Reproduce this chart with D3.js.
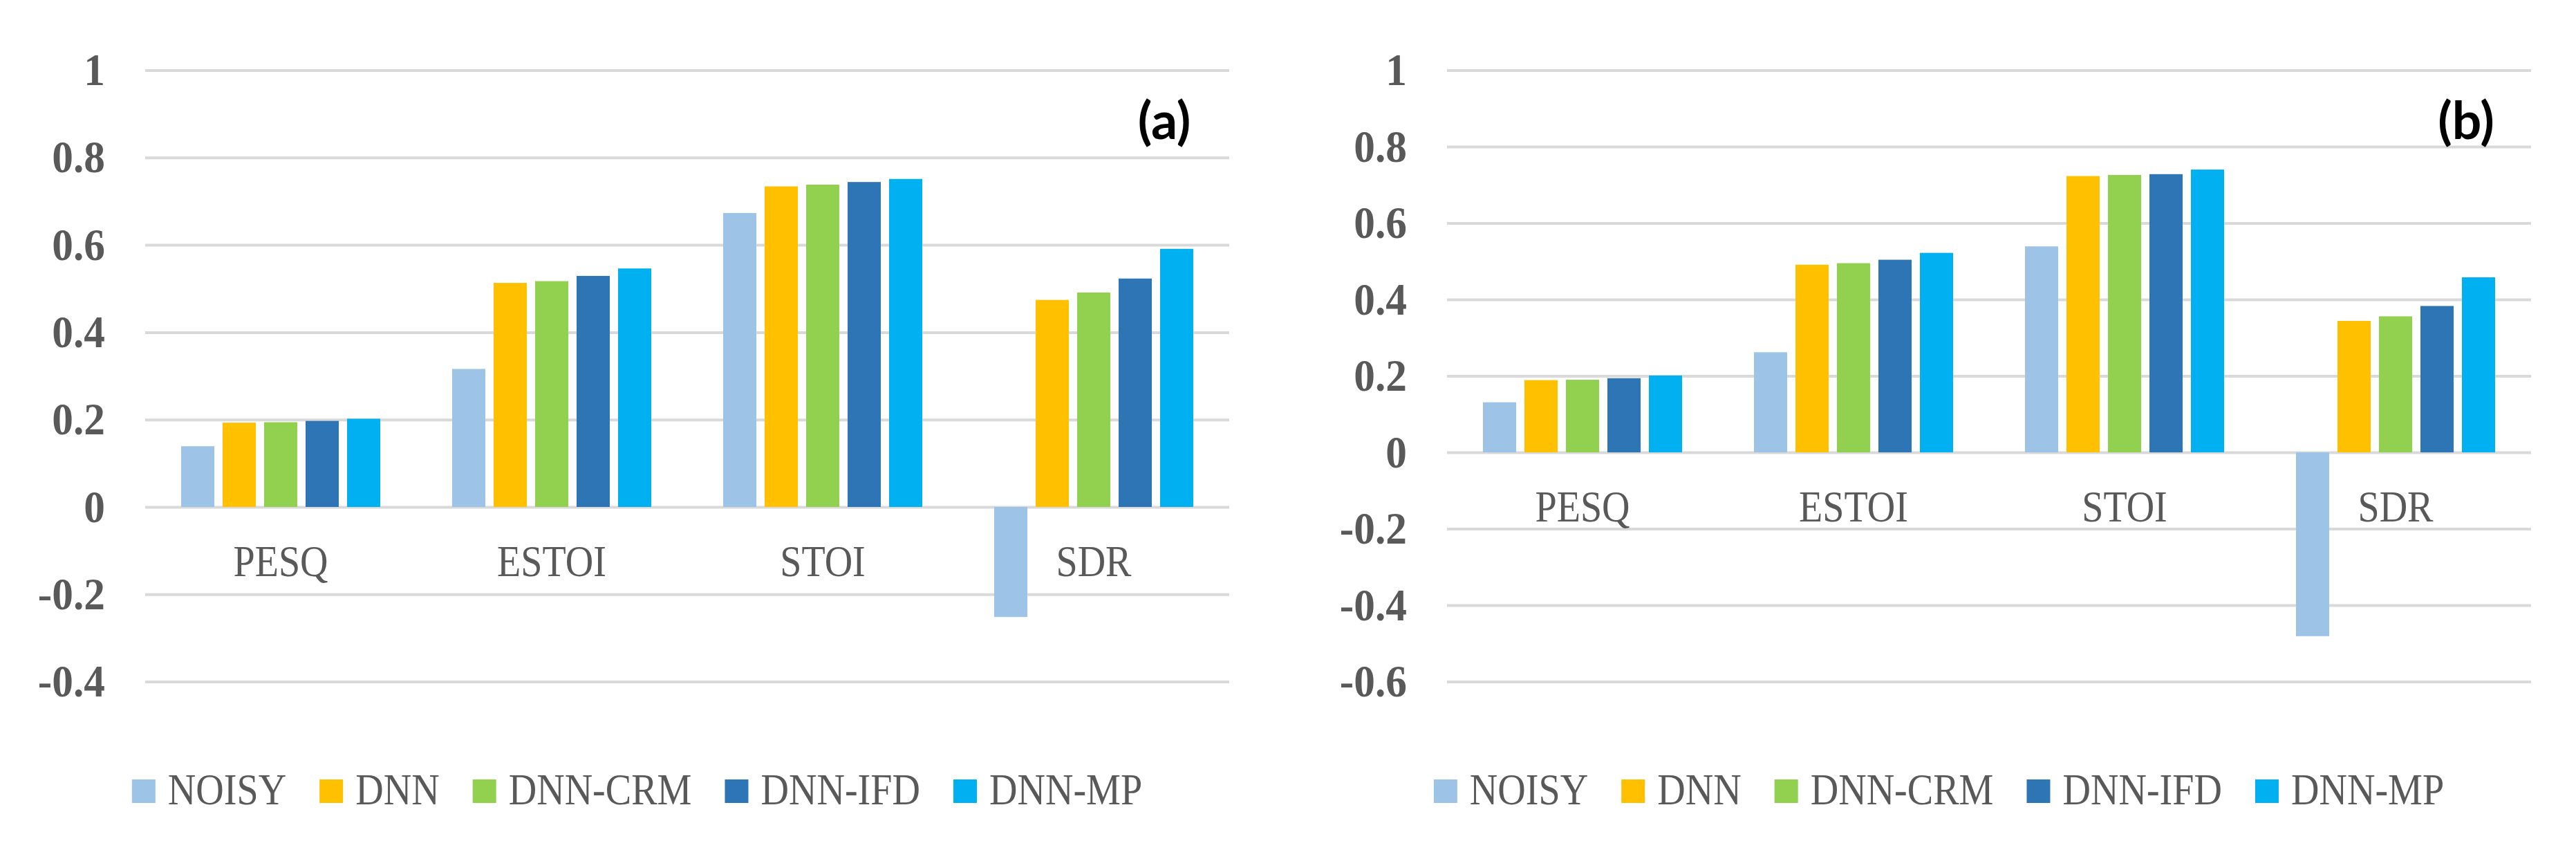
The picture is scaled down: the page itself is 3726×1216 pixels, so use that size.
<!DOCTYPE html>
<html>
<head>
<meta charset="utf-8">
<script src="https://cdn.jsdelivr.net/npm/d3@7"></script>
<style>
  body { margin: 0; background: #fff; }
</style>
</head>
<body>
<div class="canvas"></div>
<script>
// categories and series
const categories = ['PESQ', 'ESTOI', 'STOI', 'SDR'];
const seriesNames = ['NOISY', 'DNN', 'DNN-CRM', 'DNN-IFD', 'DNN-MP'];

// panel (a) values, one array per series, in category order
const noisyA = [0.139, 0.316, 0.673, -0.252];
const dnnA   = [0.193, 0.513, 0.734, 0.474];
const crmA   = [0.194, 0.517, 0.738, 0.491];
const ifdA   = [0.197, 0.529, 0.744, 0.523];
const mpA    = [0.202, 0.546, 0.751, 0.591];

// panel (b) values
const noisyB = [0.131, 0.262, 0.539, -0.481];
const dnnB   = [0.189, 0.491, 0.723, 0.344];
const crmB   = [0.190, 0.495, 0.726, 0.356];
const ifdB   = [0.194, 0.504, 0.728, 0.383];
const mpB    = [0.201, 0.522, 0.740, 0.458];

// y tick values
const ticksA = [-0.4, -0.2, 0, 0.2, 0.4, 0.6, 0.8, 1];
const ticksB = [-0.6, -0.4, -0.2, 0, 0.2, 0.4, 0.6, 0.8, 1];

const colors = ['#9DC3E6', '#FFC000', '#92D050', '#2E75B6', '#00B0F0'];
const textGrey = '#595959';

const svg = d3.select('.canvas')
  .append('svg')
  .attr('width', 3726)
  .attr('height', 1216);

svg.append('rect').attr('width', 3726).attr('height', 1216).attr('fill', '#fff');

// plot area, same size in both panels
const plot = { top: 101.5, bottom: 985.6, width: 1568 };

const drawPanel = (left, ticks, series, label) => {
  const g = svg.append('g').attr('transform', `translate(${left},0)`);

  const x0 = d3.scaleBand()
    .domain(categories)
    .range([0, plot.width])
    .paddingInner(0.2653)
    .paddingOuter(0.1327);

  const x1 = d3.scaleBand()
    .domain(seriesNames)
    .range([0, x0.bandwidth()])
    .paddingInner(0.2);

  const y = d3.scaleLinear()
    .domain([ticks[0], 1])
    .range([plot.bottom, plot.top]);

  // gridlines + tick labels
  const sx = 0.93;
  const axis = g.append('g')
    .call(d3.axisLeft(y)
      .tickValues(ticks)
      .tickSize(-plot.width)
      .tickPadding(58)
      .tickFormat(d => String(Math.round(d * 10) / 10)));
  axis.select('.domain').remove();
  axis.selectAll('.tick line')
    .attr('stroke', '#D9D9D9')
    .attr('stroke-width', 4);
  axis.selectAll('.tick text')
    .attr('x', -58 / sx)
    .attr('transform', `scale(${sx},1)`)
    .attr('fill', textGrey)
    .style('font-family', '"Liberation Serif", serif')
    .style('font-weight', 'bold')
    .style('font-size', '66px');

  // bars
  const groups = g.selectAll('g.cat')
    .data(categories)
    .enter()
    .append('g')
    .attr('class', 'cat')
    .attr('transform', d => `translate(${x0(d)},0)`);

  groups.selectAll('rect')
    .data((c, i) => series.map((s, k) => ({ name: seriesNames[k], value: s[i], k })))
    .enter()
    .append('rect')
    .attr('x', d => x1(d.name))
    .attr('width', x1.bandwidth())
    .attr('y', d => y(Math.max(0, d.value)))
    .attr('height', d => Math.abs(y(d.value) - y(0)))
    .attr('fill', d => colors[d.k]);

  // category labels
  const cx = 0.89;
  g.selectAll('text.cat-label')
    .data(categories)
    .enter()
    .append('text')
    .attr('class', 'cat-label')
    .attr('transform', d => `translate(${x0(d) + x0.bandwidth() / 2},${y(0) + 100}) scale(${cx},1)`)
    .attr('text-anchor', 'middle')
    .attr('fill', textGrey)
    .style('font-family', '"Liberation Serif", serif')
    .style('font-size', '63px')
    .text(d => d);

  // panel label
  g.append('text')
    .attr('x', plot.width - 94)
    .attr('y', 201)
    .attr('text-anchor', 'middle')
    .attr('fill', '#000')
    .style('font-family', 'Lato, sans-serif')
    .style('font-weight', 'bold')
    .style('font-size', '75px')
    .text(label);

  // legend
  const leg = g.append('g');
  const items = leg.selectAll('g')
    .data(seriesNames)
    .enter()
    .append('g');
  items.append('rect')
    .attr('width', 34)
    .attr('height', 34)
    .attr('y', 1127)
    .attr('fill', (d, i) => colors[i]);
  items.append('text')
    .attr('fill', textGrey)
    .style('font-family', '"Liberation Serif", serif')
    .style('font-size', '63px')
    .text(d => d);

  let pos = 0;
  items.each(function () {
    const item = d3.select(this);
    const w = item.select('text').node().getComputedTextLength() * cx;
    item.attr('transform', `translate(${pos},0)`);
    item.select('text').attr('transform', `translate(52,1163) scale(${cx},1)`);
    pos += 52 + w + 48;
  });
  const legWidth = pos - 48;
  leg.attr('transform', `translate(${711.5 - legWidth / 2},0)`);
};

drawPanel(210, ticksA, [noisyA, dnnA, crmA, ifdA, mpA], '(a)');
drawPanel(2093, ticksB, [noisyB, dnnB, crmB, ifdB, mpB], '(b)');
</script>
</body>
</html>
